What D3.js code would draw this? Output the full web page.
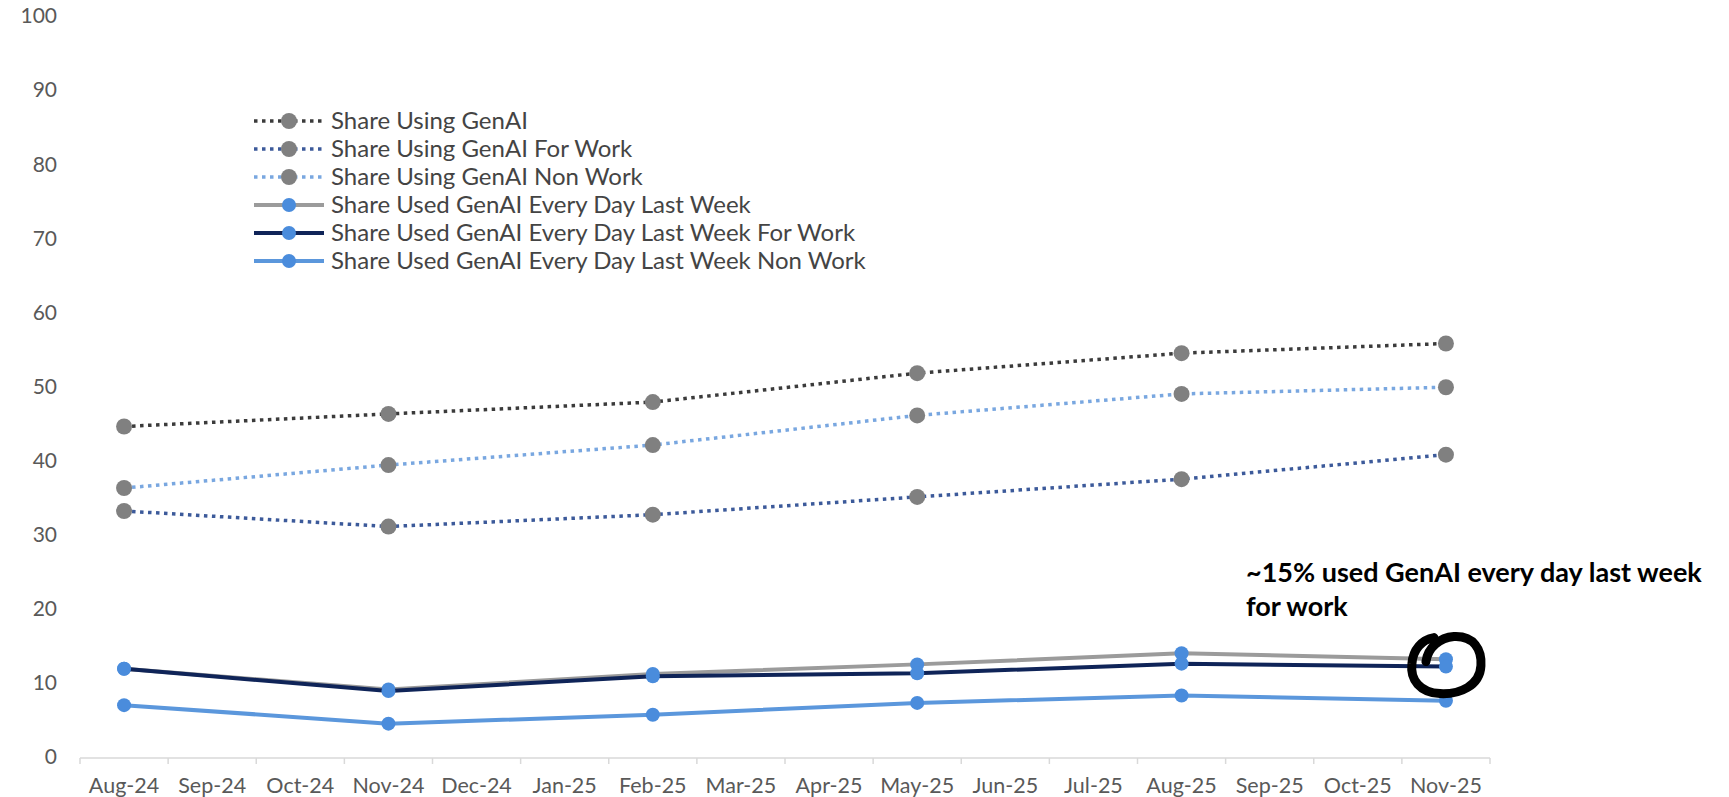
<!DOCTYPE html>
<html>
<head>
<meta charset="utf-8">
<script src="https://cdn.jsdelivr.net/npm/d3@7"></script>
<style>
  html, body { margin: 0; padding: 0; background: #ffffff; }
  svg { display: block; }
</style>
</head>
<body>
<svg id="chart" width="1729" height="797"></svg>
<script>
// ---- data ----
const months = ["Aug-24","Sep-24","Oct-24","Nov-24","Dec-24","Jan-25","Feb-25","Mar-25","Apr-25","May-25","Jun-25","Jul-25","Aug-25","Sep-25","Oct-25","Nov-25"];
const surveyMonths = ["Aug-24","Nov-24","Feb-25","May-25","Aug-25","Nov-25"];
const yTicks = [0,10,20,30,40,50,60,70,80,90,100];

const shareUsing        = [44.6, 46.3, 47.9, 51.8, 54.5, 55.8];
const shareUsingWork    = [33.2, 31.1, 32.7, 35.1, 37.5, 40.8];
const shareUsingNonWork = [36.3, 39.4, 42.1, 46.1, 49.0, 49.9];
const dailyAll          = [11.9,  9.1, 11.2, 12.5, 14.0, 13.2];
const dailyWork         = [11.9,  8.9, 10.9, 11.3, 12.6, 12.2];
const dailyNonWork      = [ 7.0,  4.5,  5.7,  7.3,  8.3,  7.6];

const seriesNames = [
  "Share Using GenAI",
  "Share Using GenAI For Work",
  "Share Using GenAI Non Work",
  "Share Used GenAI Every Day Last Week",
  "Share Used GenAI Every Day Last Week For Work",
  "Share Used GenAI Every Day Last Week Non Work"
];
const annotationLines = ["~15% used GenAI every day last week", "for work"];

// ---- styles ----
const styles = [
  {stroke:"#3b3b3b", dash:"3.5 4.5", width:3.5, marker:"#808080", r:8},
  {stroke:"#3c5a9a", dash:"3.5 4.5", width:3.5, marker:"#808080", r:8},
  {stroke:"#79a7e0", dash:"3.5 4.5", width:3.5, marker:"#808080", r:8},
  {stroke:"#9b9b9b", dash:null, width:4, marker:"#4a8cdc", r:7},
  {stroke:"#0f2458", dash:null, width:4, marker:"#4a8cdc", r:7},
  {stroke:"#5b97dc", dash:null, width:4, marker:"#4a8cdc", r:7}
];
const allSeries = [shareUsing, shareUsingWork, shareUsingNonWork, dailyAll, dailyWork, dailyNonWork];

const svg = d3.select("#chart");
const font = "Lato, 'Open Sans', sans-serif";

const x = d3.scalePoint().domain(months).range([80, 1490]).padding(0.5);
const y = d3.scaleLinear().domain([0, 100]).range([757, 16]);
const step = x.step();

// y axis labels
svg.append("g").selectAll("text").data(yTicks).join("text")
  .attr("x", 57).attr("y", d => y(d)).attr("dy", "0.35em")
  .attr("text-anchor", "end")
  .attr("font-family", font).attr("font-size", 21).attr("fill", "#595959")
  .text(d => d);

// x axis line and ticks
const xAxisY = 758;
svg.append("line").attr("x1", x(months[0]) - step/2).attr("x2", x(months[months.length-1]) + step/2)
  .attr("y1", xAxisY).attr("y2", xAxisY).attr("stroke", "#d9d9d9").attr("stroke-width", 1.5);
const boundaries = months.map(m => x(m) - step/2).concat([x(months[months.length-1]) + step/2]);
svg.append("g").selectAll("line").data(boundaries).join("line")
  .attr("x1", d => d).attr("x2", d => d).attr("y1", xAxisY).attr("y2", xAxisY + 6)
  .attr("stroke", "#d9d9d9").attr("stroke-width", 1.5);
svg.append("g").selectAll("text").data(months).join("text")
  .attr("x", d => x(d)).attr("y", 785).attr("dy", "0.35em")
  .attr("text-anchor", "middle")
  .attr("font-family", font).attr("font-size", 21.5).attr("fill", "#595959")
  .text(d => d);

// lines
const line = d3.line().x(d => x(d.m)).y(d => y(d.v));
allSeries.forEach((vals, i) => {
  const st = styles[i];
  const pts = surveyMonths.map((m, k) => ({m, v: vals[k]}));
  const g = svg.append("g");
  g.append("path").datum(pts).attr("d", line)
    .attr("fill", "none").attr("stroke", st.stroke).attr("stroke-width", st.width)
    .attr("stroke-dasharray", st.dash).attr("stroke-linejoin", "round");
  g.selectAll("circle").data(pts).join("circle")
    .attr("cx", d => x(d.m)).attr("cy", d => y(d.v)).attr("r", st.r)
    .attr("fill", st.marker);
});

// legend
const legend = svg.append("g");
seriesNames.forEach((name, i) => {
  const st = styles[i];
  const ly = 121 + i * 28;
  legend.append("line").attr("x1", 254).attr("x2", 324).attr("y1", ly).attr("y2", ly)
    .attr("stroke", st.stroke).attr("stroke-width", st.width).attr("stroke-dasharray", st.dash);
  legend.append("circle").attr("cx", 289).attr("cy", ly).attr("r", st.r).attr("fill", st.marker);
  legend.append("text").attr("x", 331).attr("y", ly).attr("dy", "0.35em")
    .attr("font-family", font).attr("font-size", 24).attr("fill", "#444444")
    .text(name);
});

// annotation text
svg.append("g").selectAll("text").data(annotationLines).join("text")
  .attr("x", 1246).attr("y", (d, i) => 573 + i * 34).attr("dy", "0.35em")
  .attr("font-family", font).attr("font-weight", "bold").attr("font-size", 27).attr("fill", "#000")
  .text(d => d);

// hand-drawn circle around last point
const cx = x(months[months.length-1]), cy = y(dailyWork[dailyWork.length-1]) - 3;
const circ = d3.path();
circ.moveTo(cx - 20, cy - 2);
circ.bezierCurveTo(cx - 18, cy - 16, cx - 6, cy - 26, cx + 8, cy - 27);
circ.bezierCurveTo(cx + 28, cy - 28, cx + 36, cy - 14, cx + 35, cy + 2);
circ.bezierCurveTo(cx + 34, cy + 22, cx + 14, cy + 31, cx - 6, cy + 30);
circ.bezierCurveTo(cx - 26, cy + 29, cx - 36, cy + 16, cx - 34, cy + 0);
circ.bezierCurveTo(cx - 33, cy - 14, cx - 24, cy - 24, cx - 12, cy - 26);
svg.append("path").attr("d", circ.toString()).attr("fill", "none")
  .attr("stroke", "#000").attr("stroke-width", 9).attr("stroke-linecap", "round").attr("stroke-linejoin", "round");
</script>
</body>
</html>
